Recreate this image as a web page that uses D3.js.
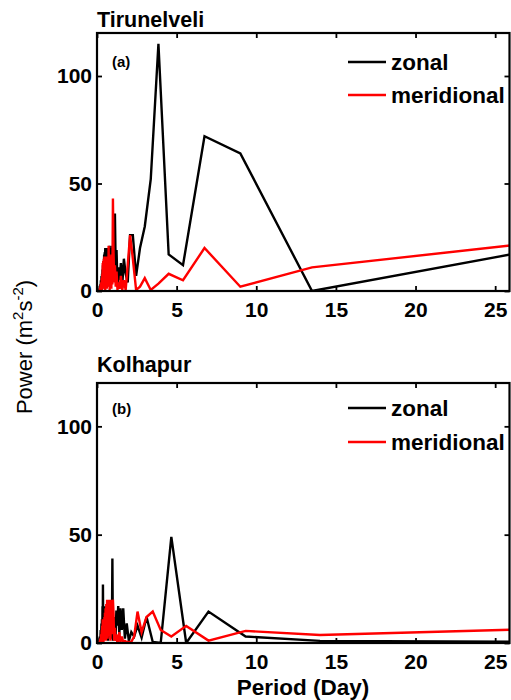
<!DOCTYPE html>
<html>
<head>
<meta charset="utf-8">
<script src="https://cdn.jsdelivr.net/npm/d3@7/dist/d3.min.js"></script>
<style>
  html, body { margin: 0; padding: 0; background: #fff; }
  svg { display: block; font-family: "Liberation Sans", Arial, sans-serif; }
</style>
</head>
<body>
<svg id="chart" width="511" height="700"></svg>
<script>
// ---- data (period in days, power in m^2 s^-2) ----
const xTicks = [0, 5, 10, 15, 20, 25];
const yTicks = [0, 50, 100];
const seriesNames = ['zonal', 'meridional'];
const seriesColors = ['#000000', '#ff0000'];

// Tirunelveli
const periodA = [27, 13.5, 9, 6.75, 5.4, 4.5, 3.857, 3.375, 3, 2.7, 2.455, 2.25, 2.077, 1.929, 1.8, 1.688, 1.588, 1.5, 1.421, 1.35,
  1.286, 1.227, 1.174, 1.125, 1.08, 1.038, 1, 0.964, 0.931, 0.9, 0.871, 0.844, 0.818, 0.794, 0.771, 0.75, 0.73, 0.711, 0.692, 0.675,
  0.643, 0.614, 0.587, 0.5625, 0.54, 0.519, 0.5, 0.482, 0.466, 0.45, 0.429, 0.409, 0.391, 0.375, 0.36, 0.346, 0.333, 0.318, 0.3, 0.284,
  0.27, 0.245, 0.225, 0.2, 0.169, 0.135];
const zonalA = [18.4, 0, 64, 72, 12, 17, 115, 52, 30, 20, 7, 26, 26, 4, 8, 15, 3, 13, 5, 11,
  2, 19, 10, 36, 14, 20, 6, 21, 9, 20, 4, 19, 12, 21, 3, 18, 10, 20, 6, 19,
  2, 20, 8, 19, 5, 20, 11, 18, 3, 17, 9, 14, 2, 12, 6, 10, 1, 8, 3, 7,
  1, 5, 0.5, 3, 0.5, 1];
const meridA = [22, 11, 2, 20, 5, 8, 3.4, 0.5, 6, 2, 0.5, 15, 26, 12, 0.5, 5, 0.5, 7, 1, 4,
  0.5, 9, 2, 12, 4, 18, 43, 3, 17, 1, 15, 6, 16, 0.5, 17, 5, 21, 2, 16, 8,
  15, 1, 16, 4, 14, 0.5, 15, 6, 16, 2, 15, 7, 14, 1, 13, 4, 8, 0.5, 6, 1,
  4, 0.5, 3, 0.5, 1, 0.5];

// Kolhapur
const periodB = [28, 14, 9.333, 7, 5.6, 4.667, 4, 3.5, 3.111, 2.8, 2.545, 2.333, 2.154, 2, 1.867, 1.75, 1.647, 1.556, 1.474, 1.4,
  1.333, 1.273, 1.217, 1.167, 1.12, 1.077, 1.037, 1, 0.966, 0.933, 0.903, 0.875, 0.848, 0.824, 0.8, 0.778, 0.757, 0.737, 0.718, 0.7,
  0.667, 0.636, 0.609, 0.583, 0.56, 0.538, 0.519, 0.5, 0.483, 0.467, 0.444, 0.424, 0.406, 0.389, 0.373, 0.359, 0.346, 0.329, 0.311, 0.295,
  0.28, 0.255, 0.233, 0.207, 0.175, 0.14];
const zonalB = [0.5, 1, 3, 14.5, 0, 49, 0, 0.5, 12, 2.5, 8, 3, 5, 1, 9, 2, 16, 6, 16, 4,
  17, 8, 15, 3, 12, 2, 10, 1, 39, 5, 18, 2, 15, 7, 17, 3, 14, 9, 16, 1,
  17, 5, 15, 2, 16, 8, 17, 3, 12, 6, 16, 2, 14, 7, 27, 4, 17, 2, 11, 5,
  9, 1, 6, 0.5, 3, 0.5];
const meridB = [6.5, 3.7, 5.6, 1.1, 7.9, 3, 6, 14.5, 12, 5, 14.5, 3, 0.5, 0.5, 0.5, 1, 0.5, 3, 0.5, 5,
  1, 0.5, 4, 1, 7, 1, 14, 20, 4, 19, 8, 20, 1, 18, 6, 20, 3, 17, 10, 19,
  2, 20, 7, 18, 1, 16, 5, 14, 1, 12, 4, 10, 0.5, 9, 3, 11, 0.5, 8, 2, 6,
  0.5, 4, 0.5, 2, 0.5, 1];

const panels = [
  { id: 'a', title: 'Tirunelveli', tag: '(a)', top: 33, bottom: 291, period: periodA, values: [zonalA, meridA],
    titleY: 27, tagY: 67, legendY: [62, 95] },
  { id: 'b', title: 'Kolhapur', tag: '(b)', top: 383, bottom: 643, period: periodB, values: [zonalB, meridB],
    titleY: 372, tagY: 414, legendY: [408, 442] }
];

const left = 97, right = 509.5;
const svg = d3.select('#chart');

const x = d3.scaleLinear().domain([0, 25.9]).range([left, right]);

panels.forEach((p) => {
  const y = d3.scaleLinear().domain([0, 120]).range([p.bottom, p.top]);
  const g = svg.append('g');

  g.append('clipPath').attr('id', 'clip-' + p.id)
    .append('rect').attr('x', left).attr('y', p.top).attr('width', right - left).attr('height', p.bottom - p.top);

  const line = d3.line().x((d) => x(d[0])).y((d) => y(d[1]));

  const lines = g.append('g').attr('clip-path', `url(#clip-${p.id})`);
  p.values.forEach((vals, i) => {
    const pts = p.period.map((t, j) => [t, vals[j]]).sort((a, b) => a[0] - b[0]);
    lines.append('path')
      .datum(pts)
      .attr('fill', 'none')
      .attr('stroke', seriesColors[i])
      .attr('stroke-width', 2.4)
      .attr('stroke-linejoin', 'miter')
      .attr('d', line);
  });

  // axes, MATLAB style: inward ticks on all four sides
  const bottomAxis = g.append('g').attr('transform', `translate(0,${p.bottom})`)
    .call(d3.axisBottom(x).tickValues(xTicks).tickSizeInner(-5).tickSizeOuter(0).tickPadding(11));
  g.append('g').attr('transform', `translate(0,${p.top})`)
    .call(d3.axisTop(x).tickValues(xTicks).tickSizeInner(-5).tickSizeOuter(0).tickFormat(''));
  const leftAxis = g.append('g').attr('transform', `translate(${left},0)`)
    .call(d3.axisLeft(y).tickValues(yTicks).tickSizeInner(-5).tickSizeOuter(0).tickPadding(5));
  g.append('g').attr('transform', `translate(${right},0)`)
    .call(d3.axisRight(y).tickValues(yTicks).tickSizeInner(-5).tickSizeOuter(0).tickFormat(''));

  g.selectAll('.domain').remove();
  g.selectAll('.tick line').attr('stroke', '#000').attr('stroke-width', 1.8);
  [bottomAxis, leftAxis].forEach((ax) => ax.selectAll('text')
    .attr('fill', '#000').attr('font-size', 21).attr('font-weight', 'bold')
    .attr('font-family', '"Liberation Sans", Arial, sans-serif'));

  g.append('rect')
    .attr('x', left).attr('y', p.top).attr('width', right - left).attr('height', p.bottom - p.top)
    .attr('fill', 'none').attr('stroke', '#000').attr('stroke-width', 2.2);

  g.append('text').attr('x', left).attr('y', p.titleY)
    .attr('font-size', 21.5).attr('font-weight', 'bold').text(p.title);

  g.append('text').attr('x', 112).attr('y', p.tagY)
    .attr('font-size', 15).attr('font-weight', 'bold').text(p.tag);

  seriesNames.forEach((name, i) => {
    const ly = p.legendY[i];
    g.append('line').attr('x1', 348).attr('x2', 386).attr('y1', ly).attr('y2', ly)
      .attr('stroke', seriesColors[i]).attr('stroke-width', 2.4);
    g.append('text').attr('x', 391).attr('y', ly + 8)
      .attr('font-size', 22.5).attr('font-weight', 'bold').text(name);
  });
});

svg.append('text')
  .attr('x', 303).attr('y', 695)
  .attr('text-anchor', 'middle')
  .attr('font-size', 22.5).attr('font-weight', 'bold')
  .text('Period (Day)');

const yl = svg.append('text')
  .attr('transform', 'translate(32,347) rotate(-90)')
  .attr('text-anchor', 'middle')
  .attr('font-size', 22);
yl.append('tspan').text('Power (m');
yl.append('tspan').attr('font-size', 15).attr('dy', -9).text('2');
yl.append('tspan').attr('dy', 9).text('s');
yl.append('tspan').attr('font-size', 15).attr('dy', -9).text('-2');
yl.append('tspan').attr('dy', 9).text(')');
</script>
</body>
</html>
